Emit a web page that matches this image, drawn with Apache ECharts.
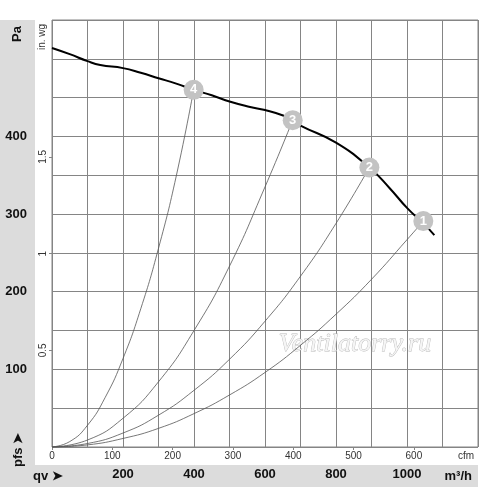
<!DOCTYPE html>
<html lang="ru">
<head>
<meta charset="UTF-8" />
<title>Fan curve</title>
<script src="https://cdn.jsdelivr.net/npm/echarts@6/dist/echarts.min.js"></script>
<style>
  html, body { margin: 0; padding: 0; background: #fff; }
  #main { width: 500px; height: 487px; }
</style>
</head>
<body>
<div id="main"></div>
<script type="text/javascript">
// fan curve, m3/h -> Pa
var fanFlow = [0, 50, 100, 136, 200, 250, 300, 350, 400, 450, 500, 558, 600, 651, 678, 700, 800, 894, 950, 1000, 1046, 1077];
var fanPres = [514, 506, 497, 492, 488, 482, 475, 468, 460, 453, 445, 438, 434, 427, 421, 414, 392, 360, 334, 308, 288, 273];

// system curves 1..4
var sys1Flow = [0, 100, 200, 300, 400, 500, 600, 700, 800, 900, 1000, 1046];
var sys1Pres = [0, 2.7, 11, 24, 43, 67, 96, 131, 171, 216, 267, 291];
var sys2Flow = [0, 100, 200, 300, 400, 500, 600, 700, 800, 894];
var sys2Pres = [0, 4.5, 18, 41, 73, 113, 162, 220, 288, 360];
var sys3Flow = [0, 100, 200, 300, 400, 500, 600, 678];
var sys3Pres = [0, 9, 37, 84, 150, 233, 335, 421];
var sys4Flow = [0, 50, 100, 150, 200, 250, 300, 350, 399];
var sys4Pres = [0, 7, 28, 64, 114, 178, 256, 349, 460];

// numbered operating points
var pointNames = ['1', '2', '3', '4'];
var pointFlow = [1046, 894, 678, 399];
var pointPres = [291, 360, 421, 460];

// tick labels
var flowLabels = [200, 400, 600, 800, 1000];
var presLabels = [100, 200, 300, 400];
var cfmLabels = [0, 100, 200, 300, 400, 500, 600];
var wgLabels = [0.5, 1, 1.5];

var flowMax = 1200, presMax = 550;
var cfmMax = flowMax / 1.699;
var wgMax = presMax / 249.09;

function zip(a, b) {
  return a.map(function (v, i) { return [v, b[i]]; });
}

var gridCol = '#858585';
var bandCol = '#dcdcdc';
var font = 'Liberation Sans';

function sysSeries(f, p) {
  return {
    type: 'line', data: zip(f, p), smooth: true, showSymbol: false,
    lineStyle: { color: '#555', width: 0.8 }, z: 3, silent: true
  };
}

var myChart = echarts.init(document.getElementById('main'));
myChart.setOption({
  animation: false,
  textStyle: { fontFamily: font },
  grid: { left: 52, right: 22, top: 20, bottom: 40, show: true, borderColor: gridCol, borderWidth: 1 },
  xAxis: [
    {
      type: 'value', min: 0, max: flowMax, interval: 100, position: 'bottom',
      axisLine: { show: false }, axisTick: { show: false },
      splitLine: { lineStyle: { color: gridCol, width: 1 } },
      axisLabel: {
        margin: 21, fontSize: 13, fontWeight: 'bold', color: '#111', fontFamily: font,
        formatter: function (v) { return flowLabels.indexOf(v) >= 0 ? String(v) : ''; }
      }
    },
    {
      type: 'value', min: 0, max: cfmMax, interval: 100, position: 'bottom',
      axisLine: { show: false }, splitLine: { show: false },
      axisTick: { show: true, length: 3, lineStyle: { color: gridCol }, customValues: cfmLabels },
      axisLabel: {
        margin: 4, fontSize: 10, color: '#333', fontFamily: font, showMaxLabel: false,
        formatter: function (v) { return cfmLabels.indexOf(v) >= 0 ? String(v) : ''; }
      }
    }
  ],
  yAxis: [
    {
      type: 'value', min: 0, max: presMax, interval: 50, position: 'left',
      axisLine: { show: false }, axisTick: { show: false },
      splitLine: { lineStyle: { color: gridCol, width: 1 } },
      axisLabel: {
        margin: 25, fontSize: 13, fontWeight: 'bold', color: '#111', fontFamily: font,
        formatter: function (v) { return presLabels.indexOf(v) >= 0 ? String(v) : ''; }
      }
    },
    {
      type: 'value', min: 0, max: wgMax, interval: 0.5, position: 'left',
      axisLine: { show: false }, splitLine: { show: false },
      axisTick: { show: true, length: 3, lineStyle: { color: gridCol }, customValues: wgLabels },
      axisLabel: {
        rotate: 90, margin: 4, fontSize: 10, color: '#333', fontFamily: font, showMaxLabel: false,
        formatter: function (v) { return wgLabels.indexOf(v) >= 0 ? String(v) : ''; }
      }
    }
  ],
  graphic: [
    { type: 'rect', shape: { x: 0, y: 20, width: 35, height: 467 }, style: { fill: bandCol }, z: -10 },
    { type: 'rect', shape: { x: 0, y: 465, width: 478, height: 22 }, style: { fill: bandCol }, z: -10 },
    {
      type: 'text', x: 17, y: 34, rotation: Math.PI / 2, z: 100,
      style: { text: 'Pa', font: 'bold 13px ' + font, fill: '#111', align: 'center', verticalAlign: 'middle' }
    },
    {
      type: 'text', x: 18, y: 450, rotation: Math.PI / 2, z: 100,
      style: { text: 'pfs \u27A4', font: 'bold 13px ' + font, fill: '#111', align: 'center', verticalAlign: 'middle' }
    },
    {
      type: 'text', x: 33, y: 476, z: 100,
      style: { text: 'qv \u27A4', font: 'bold 13px ' + font, fill: '#111', align: 'left', verticalAlign: 'middle' }
    },
    {
      type: 'text', x: 472, y: 476, z: 100,
      style: { text: 'm\u00B3/h', font: 'bold 13px ' + font, fill: '#111', align: 'right', verticalAlign: 'middle' }
    },
    {
      type: 'text', x: 466, y: 456, z: 100,
      style: { text: 'cfm', font: '10px ' + font, fill: '#333', align: 'center', verticalAlign: 'middle' }
    },
    {
      type: 'text', x: 42, y: 37, rotation: Math.PI / 2, z: 100,
      style: { text: 'in. wg', font: '10px ' + font, fill: '#333', align: 'center', verticalAlign: 'middle' }
    },
    {
      type: 'text', x: 355, y: 344, z: 1,
      style: {
        text: 'Ventilatorry.ru', font: 'italic 26px "Liberation Serif"', fill: '#f5f5f5',
        stroke: '#b8b8b8', lineWidth: 0.8, align: 'center', verticalAlign: 'middle'
      }
    }
  ],
  series: [
    sysSeries(sys1Flow, sys1Pres),
    sysSeries(sys2Flow, sys2Pres),
    sysSeries(sys3Flow, sys3Pres),
    sysSeries(sys4Flow, sys4Pres),
    {
      type: 'line', data: zip(fanFlow, fanPres), smooth: true, showSymbol: false,
      lineStyle: { color: '#000', width: 2 }, z: 4
    },
    {
      type: 'scatter', z: 6, symbolSize: 20,
      data: pointFlow.map(function (f, i) { return [f, pointPres[i], pointNames[i]]; }),
      itemStyle: { color: '#c3c3c3', opacity: 1 },
      label: {
        show: true, position: 'inside', color: '#fff', fontWeight: 'bold', fontSize: 13, fontFamily: font,
        formatter: function (p) { return p.value[2]; }
      }
    }
  ]
});
</script>
</body>
</html>
